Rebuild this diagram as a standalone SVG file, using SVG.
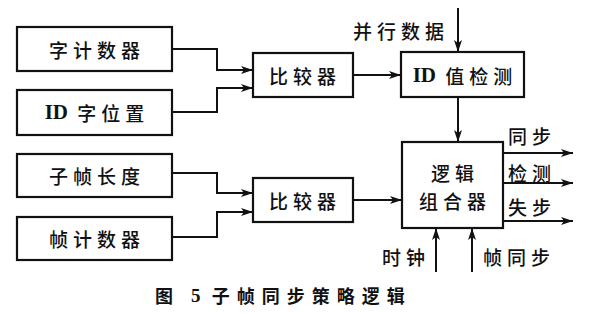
<svg xmlns="http://www.w3.org/2000/svg" width="589" height="313" viewBox="0 0 589 313">
<style>
.box{fill:#fff;stroke:#111;stroke-width:2.2}
.ln{fill:none;stroke:#111;stroke-width:2}
.t{font-family:"Noto Sans CJK SC","Noto Sans",sans-serif;font-size:19px;font-weight:500;fill:#111;letter-spacing:5px;text-anchor:middle;dominant-baseline:central}
.s{font-family:"Noto Sans CJK SC","Noto Sans",sans-serif;font-size:19px;font-weight:500;fill:#111;letter-spacing:5px;dominant-baseline:central}
.c{font-family:"Noto Sans CJK SC","Noto Sans",sans-serif;font-size:18px;font-weight:bold;fill:#111;letter-spacing:7px;dominant-baseline:central}
.r{font-family:"Liberation Serif",serif;font-weight:bold;letter-spacing:0;font-size:21px}
</style>
<defs>
<marker id="ah" viewBox="0 0 12 8" refX="12" refY="4" markerWidth="12" markerHeight="8" markerUnits="userSpaceOnUse" orient="auto">
<path d="M0,0 L12,4 L0,8 L3,4 Z" fill="#111"/>
</marker>
</defs>
<rect width="589" height="313" fill="#fff"/>
<g id="n-zijishuqi"><rect class="box" x="17" y="27" width="155" height="44"/><text class="t" x="97" y="49">字计数器</text></g>
<g id="n-idziweizhi"><rect class="box" x="17" y="90" width="155" height="45"/><text class="t" x="97" y="112"><tspan class="r">ID</tspan> 字位置</text></g>
<g id="n-bijiaoqi1"><rect class="box" x="253" y="53" width="100" height="44"/><text class="t" x="305" y="75">比较器</text></g>
<g id="n-idzhijiance"><rect class="box" x="401" y="52" width="123" height="45"/><text class="t" x="465" y="75"><tspan class="r">ID</tspan> 值检测</text></g>
<g id="n-zizhenchangdu"><rect class="box" x="17" y="154" width="155" height="43"/><text class="t" x="97" y="175">子帧长度</text></g>
<g id="n-zhenjishuqi"><rect class="box" x="17" y="217" width="155" height="43"/><text class="t" x="97" y="238">帧计数器</text></g>
<g id="n-bijiaoqi2"><rect class="box" x="253" y="178" width="100" height="44"/><text class="t" x="305" y="200">比较器</text></g>
<g id="n-luoji"><rect class="box" x="402" y="142" width="101" height="86"/><text class="t" x="455" y="172">逻辑</text><text class="t" x="455" y="200">组合器</text></g>
<g id="connectors">
<path class="ln" d="M172,49 H217 V70 H253" marker-end="url(#ah)"/>
<path class="ln" d="M172,112 H217 V88 H253" marker-end="url(#ah)"/>
<path class="ln" d="M353,75 H401" marker-end="url(#ah)"/>
<path class="ln" d="M458,8 V52" marker-end="url(#ah)"/>
<path class="ln" d="M458,97 V142" marker-end="url(#ah)"/>
<path class="ln" d="M172,173 H217 V193 H253" marker-end="url(#ah)"/>
<path class="ln" d="M172,237 H217 V212 H253" marker-end="url(#ah)"/>
<path class="ln" d="M353,200 H402" marker-end="url(#ah)"/>
<path class="ln" d="M503,153 H573" marker-end="url(#ah)"/>
<path class="ln" d="M503,183 H573" marker-end="url(#ah)"/>
<path class="ln" d="M503,221 H573" marker-end="url(#ah)"/>
<path class="ln" d="M436,272 V228" marker-end="url(#ah)"/>
<path class="ln" d="M472,272 V228" marker-end="url(#ah)"/>
</g>
<g id="labels">
<text class="s" x="353" y="30">并行数据</text>
<text class="s" x="508" y="135">同步</text>
<text class="s" x="508" y="172">检测</text>
<text class="s" x="508" y="206">失步</text>
<text class="s" x="382" y="256">时钟</text>
<text class="s" x="483" y="256">帧同步</text>
<text class="c" x="155" y="295">图 <tspan class="r" style="font-size:19px">5</tspan> 子帧同步策略逻辑</text>
</g>
</svg>
